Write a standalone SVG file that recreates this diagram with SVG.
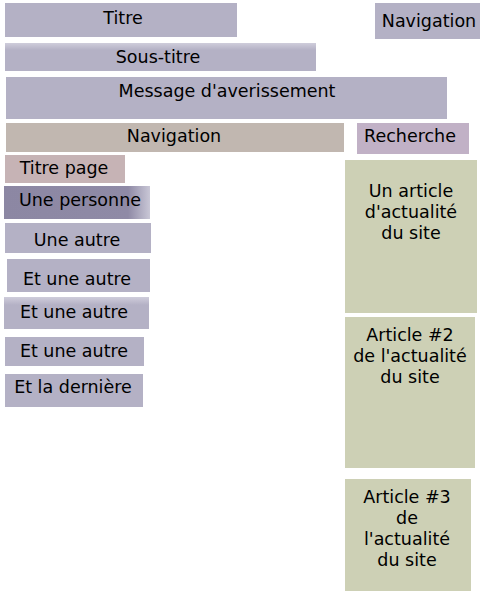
<svg xmlns="http://www.w3.org/2000/svg" width="484" height="598" viewBox="0 0 484 598">
<style>
text{font-family:"DejaVu Sans","Liberation Sans",sans-serif;font-size:17.5px;fill:#000;text-anchor:middle}
.b{fill:#b4b1c5}
.g{fill:#cdd0b5}
</style>
<defs>
<linearGradient id="top" x1="0" y1="0" x2="0" y2="1">
<stop offset="0" stop-color="#cfcddb"/>
<stop offset="0.25" stop-color="#b4b1c5"/>
<stop offset="1" stop-color="#b4b1c5"/>
</linearGradient>
<linearGradient id="pers" x1="0" y1="0" x2="1" y2="0">
<stop offset="0" stop-color="#8c87a3"/>
<stop offset="0.85" stop-color="#8f8aa6"/>
<stop offset="1" stop-color="#c9c7d6"/>
</linearGradient>
</defs>
<rect width="484" height="598" fill="#fff"/>
<g id="titre"><rect class="b" x="5" y="3" width="232" height="34"/><text x="123" y="24">Titre</text></g>
<g id="nav-top"><rect class="b" x="375" y="3" width="105" height="36"/><text x="429" y="27">Navigation</text></g>
<g id="sous-titre"><rect x="5" y="43" width="311" height="28" fill="url(#top)"/><text x="158" y="63">Sous-titre</text></g>
<g id="message"><rect class="b" x="6" y="77" width="441" height="42"/><text x="227" y="97">Message d'averissement</text></g>
<g id="navigation"><rect x="6" y="123" width="338" height="29" fill="#c1b7b0"/><text x="174" y="142">Navigation</text></g>
<g id="recherche"><rect x="357" y="123" width="112" height="31" fill="#c1b1c6"/><text x="410" y="142">Recherche</text></g>
<g id="titre-page"><rect x="5" y="155" width="120" height="28" fill="#c6b3b5"/><text x="64" y="174">Titre page</text></g>
<g id="une-personne"><rect x="4" y="186" width="146" height="33" fill="url(#pers)"/><text x="80" y="206">Une personne</text></g>
<g id="une-autre"><rect class="b" x="5" y="223" width="146" height="30"/><text x="77" y="246">Une autre</text></g>
<g id="et-une-autre-1"><rect class="b" x="7" y="259" width="143" height="33"/><text x="77" y="285">Et une autre</text></g>
<g id="et-une-autre-2"><rect x="4" y="297" width="145" height="32" fill="url(#top)"/><text x="74" y="318">Et une autre</text></g>
<g id="et-une-autre-3"><rect class="b" x="5" y="337" width="139" height="29"/><text x="74" y="357">Et une autre</text></g>
<g id="et-la-derniere"><rect class="b" x="5" y="374" width="138" height="33"/><text x="73" y="393">Et la dernière</text></g>
<g id="article-1"><rect class="g" x="345" y="160" width="132" height="153"/><text x="411" y="197">Un article</text><text x="411" y="218">d'actualité</text><text x="411" y="239">du site</text></g>
<g id="article-2"><rect class="g" x="345" y="317" width="130" height="151"/><text x="410" y="341">Article #2</text><text x="410" y="362">de l'actualité</text><text x="410" y="383">du site</text></g>
<g id="article-3"><rect class="g" x="345" y="479" width="126" height="112"/><text x="407" y="503">Article #3</text><text x="407" y="524">de</text><text x="407" y="545">l'actualité</text><text x="407" y="566">du site</text></g>
<g id="connectors"></g>
</svg>
